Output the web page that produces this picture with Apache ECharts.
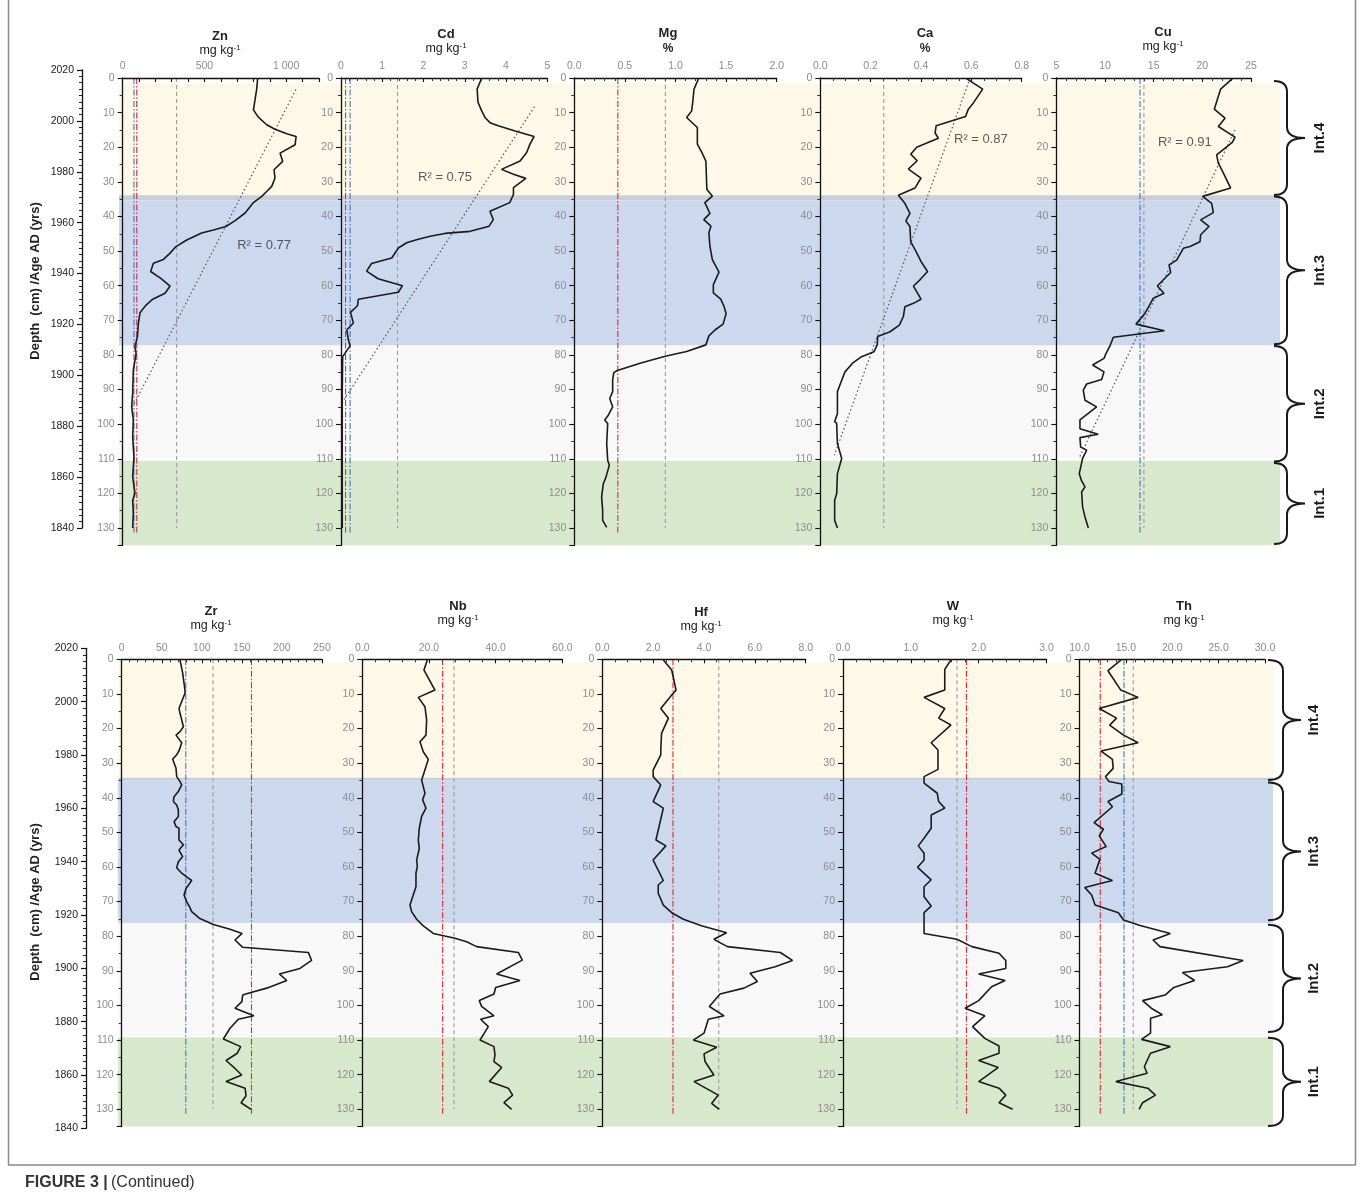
<!DOCTYPE html>
<html><head><meta charset="utf-8">
<script src="https://cdn.jsdelivr.net/npm/echarts@6/dist/echarts.min.js"></script>
<style>html,body{margin:0;padding:0;background:#fff}#c{width:1360px;height:1199px}</style>
</head><body><div id="c"></div>
<script>
// ================= DATA =================
// Zn (mg/kg)
const znDepth = [0,3.2,9.2,11.3,13.5,14.8,16.1,16.9,19.3,21.7,24.1,26.5,28.9,31.3,32.8,34.2,36,39,41.2,42.9,43.9,44.8,46.8,48.7,50.6,52.4,53.5,55.9,57.9,60.1,62.2,63.9,65.6,67.8,70.9,74.7,77.6,79.6,84.4,91.1,95,98.8,103.7,109.5,115.2,120,122,125.8,130];
const znValue = [826,820,800,830,881,932,1004,1061,1055,963,979,926,932,912,881,851,800,749,688,632,555,483,392,326,290,249,188,171,233,290,259,184,143,106,96,90,75,82,65,61,55,65,61,69,61,75,61,65,61];
const znRefs = [69, 86, 330];
const znTrendValue = [1060, 61]; const znTrendDepth = [3.3, 95];
const znR2 = {text:'R² = 0.77', value:865, depth:48.3};
// Cd (mg/kg)
const cdDepth = [0,3.2,7,9.5,11.4,12.9,13.8,15.3,16.9,19.1,21.5,24,26.4,27.8,29,31.7,33.6,36,38.5,40.9,42.8,44.3,44.9,45.7,46.7,47.6,49.1,52,53.6,55.8,58,60,61.9,63.9,65.8,67.7,70.8,72.8,75.7,77.4,80.5,91,130];
const cdValue = [3.41,3.30,3.32,3.41,3.49,3.61,3.81,4.22,4.68,4.58,4.50,4.34,3.89,4.18,4.48,4.18,4.18,4.09,3.61,3.69,3.59,3.13,2.52,2.16,1.83,1.59,1.39,1.23,0.74,0.62,0.90,1.49,1.39,0.42,0.40,0.23,0.30,0.14,0.18,0.22,0.04,0.03,0.03];
const cdRefs = [0.11, 0.22, 1.37];
const cdTrendValue = [4.69, 0.07]; const cdTrendDepth = [8.3, 93];
const cdR2 = {text:'R² = 0.75', value:2.52, depth:28.6};
// Mg (%)
const mgDepth = [0.3,3.2,7,9.5,11.4,14.3,19.1,21.5,24,32.2,34.1,36,39.1,40.9,42.8,44.7,48.6,52.5,56.1,59.7,62.1,63.9,66,68.1,71.1,72.8,74.5,77.1,79,80.3,81.2,82.4,84.5,85.1,87.2,90.6,92.6,95,97.4,98.8,99.8,105.6,110.4,111.9,115.3,117.2,121,124.9,127.8,129.8];
const mgValue = [1.226,1.183,1.17,1.16,1.11,1.216,1.216,1.26,1.30,1.31,1.364,1.29,1.34,1.28,1.35,1.33,1.34,1.364,1.43,1.374,1.374,1.447,1.48,1.50,1.47,1.39,1.33,1.30,1.11,0.91,0.80,0.65,0.425,0.39,0.379,0.379,0.35,0.379,0.336,0.30,0.33,0.32,0.33,0.346,0.313,0.287,0.27,0.28,0.28,0.32];
const mgRefs = [0.43, 0.90];
// Ca (%)
const caDepth = [0.2,3.2,7.2,9,11.1,13.8,15.9,17.4,18.8,20,22,23.9,26.3,28.9,31.8,33.9,36.2,39.1,41.3,42.9,47.3,50.1,53,55.9,58.3,60.1,63.9,65.1,66.1,68.9,71.4,73.3,74.7,77.1,79.1,80.5,82.4,84.9,87.3,90.6,96.9,99.3,99.8,105.6,109.9,114.3,120.1,122,127.8,130];
const caValue = [0.581,0.645,0.608,0.588,0.577,0.46,0.456,0.469,0.423,0.383,0.359,0.385,0.35,0.40,0.376,0.31,0.336,0.356,0.34,0.356,0.359,0.38,0.40,0.426,0.396,0.37,0.40,0.37,0.336,0.33,0.314,0.277,0.228,0.226,0.213,0.164,0.128,0.098,0.085,0.068,0.068,0.057,0.065,0.068,0.085,0.068,0.065,0.057,0.057,0.068];
const caRefs = [0.252];
const caTrendValue = [0.595, 0.056]; const caTrendDepth = [0, 109];
const caR2 = {text:'R² = 0.87', value:0.638, depth:17.6};
// Cu (mg/kg)
const cuDepth = [0.2,3.2,9,11.6,14,17.1,18.6,22.2,24.6,26.5,28.4,31.8,34.2,36.2,38.9,41,42.9,45.3,47.3,48.7,49.2,52.6,54,56.2,58.3,60.1,62.2,63.6,65.4,68,71.1,73,74.9,77.4,79.6,81,82.9,84.9,87.1,88.4,90.2,93.1,95,98.8,101.3,102.9,103.9,106.6,107.5,109.9,114.3,116.4,118.1,119.6,123.9,126.8,130];
const cuValue = [23.08,21.88,21.23,22.33,21.64,23.36,23.08,21.47,21.64,21.99,22.33,22.91,20.03,20.96,21.13,19.83,20.68,19.83,19.76,18.73,18.05,17.36,16.58,16.75,16.0,15.38,16.06,14.97,14.62,14.11,13.18,16.1,10.86,10.51,10.1,9.9,8.73,9.9,9.66,8.12,7.77,7.95,9.14,7.43,7.43,9.3,7.43,7.5,8.12,7.7,7.36,7.6,7.95,7.6,7.7,7.95,8.29];
const cuRefs = [13.6, 14.0];
const cuTrendValue = [23.35, 7.36]; const cuTrendDepth = [15, 109.7];
const cuR2 = {text:'R² = 0.91', value:18.2, depth:18.5};
// Zr (mg/kg)
const zrDepth = [0.2,4,8.9,9.8,12.2,14.2,15.6,17.5,19.5,20.9,21.9,24.1,26.2,27.6,28.9,31.5,33.9,35.3,36.3,38.2,39.7,41.1,42.1,43.5,45.4,46.9,48.3,48.8,52.2,53.6,55.1,57,58.5,60.2,61.8,63,63.9,66.2,68.1,70,71.4,72.9,74.8,76.6,78,79.2,81.1,83.2,84.7,87,89.3,90.9,92.8,95,96.5,97,98.9,100.8,103,104,106.6,109.7,111.9,113.8,115.9,118.2,120.1,122,123.9,126.1,128.1,130];
const zrValue = [72.8,76.1,79,79,74.9,71.5,72.8,74.9,77,72.8,67.8,74.9,72,68.6,63.6,67.8,68.6,72.8,74.9,70.7,65.3,64.5,68.6,70.7,70.7,65.3,67.8,71.5,71.5,77,71.5,76.1,70.7,68.6,74.9,81.9,87.4,80.3,77.8,81.1,84.4,87.4,96.9,114.4,135.2,150.3,141.4,151,233,237,222.5,196.8,206,181,158,151,150,141.4,165,145.6,135.2,126.9,148.5,144.3,130.2,141.4,149.8,130.2,154,155.2,149,161.4];
const zrRefs = [80, 114, 162];
// Nb (mg/kg)
const nbDepth = [0.2,3.1,8.9,11,13.7,17.5,21.9,23.8,26.7,28.9,33.4,34.9,38.7,40.6,43,45.4,48.8,52.2,54.6,58,59.9,61.8,65.7,71,72.9,75.1,77,79.2,80.6,81.6,83,84.7,86.9,90.9,92.8,94.8,96.7,98.6,100.3,103,104,106.1,110,111.9,114.3,116.2,117.9,122,123.9,125.9,128.1,130];
const nbValue = [19.5,18.5,21.8,16.8,18.8,19.3,19.1,17.3,18.3,19.8,18.3,17.8,18.8,18.1,19.1,17.8,17.1,16.8,17.1,16.3,16.5,16.1,16.1,14.3,14.8,16.3,18.3,21.3,27.8,31.3,34.3,46.8,48,40.3,47.3,40,39.5,35.1,35.8,39.5,35.5,37.8,35.3,39.5,39.8,39.5,41.8,38.1,43.8,45.1,42.5,44.8];
const nbRefs = [24.1, 27.5];
// Hf (mg/kg)
const hfDepth = [0.2,3.1,8.9,10.3,14.2,17,21.4,26.2,27.6,32,33.9,36.3,41.1,43,52.2,53.9,58,63.9,65.2,67.6,71,73.2,75.1,77,79,80.9,83,84.7,87,88.8,90.7,93.1,95,96.7,100.3,103,104,108,110,112.1,114,116.2,120.1,122,125.9,128.3,130];
const hfValue = [2.4,2.73,2.9,2.73,2.3,2.6,2.33,2.3,2.3,2.0,2.0,2.3,2.0,2.4,2.11,2.5,2.0,2.4,2.2,2.2,2.4,2.73,3.19,3.9,4.89,4.39,4.92,7.0,7.48,6.8,5.81,6.1,5.57,4.63,4.21,4.79,4.17,4.0,3.58,4.5,4.0,4.04,4.39,3.61,4.56,4.3,4.6];
const hfRefs = [2.78, 4.58];
// W (mg/kg)
const wDepth = [0.2,2.9,8.9,11,14.2,17,19,24.1,26.2,31.8,33.9,35.8,38.7,41.1,43,45,48.8,51.7,53.9,56,58,60.1,63.7,65.7,68.6,71.3,73.2,79.2,80.9,83,84.9,87,89.3,90.9,92.8,94.6,98.6,100.8,103,106.1,109.5,111.7,113.8,115.9,117.9,122,123.9,125.9,128.1,130];
const wValue = [1.59,1.50,1.50,1.195,1.50,1.41,1.59,1.30,1.40,1.40,1.195,1.195,1.39,1.41,1.50,1.30,1.30,1.195,1.11,1.195,1.195,1.10,1.30,1.195,1.195,1.30,1.195,1.195,1.68,1.90,2.30,2.40,2.40,2.0,2.39,2.19,2.0,1.80,2.09,1.91,2.09,2.30,2.30,2.0,2.29,2.0,2.30,2.40,2.30,2.50];
const wRefs = [1.68, 1.82];
// Th (mg/kg)
const thDepth = [0.2,3.3,8.9,11,14.2,17,19,21.9,24.1,26.5,28.9,31.5,33.9,35.3,36,38.9,41.1,42.6,47.2,49.1,51,54.1,56,57.8,61.8,63.9,65.9,68.1,71,73.2,75.3,76.9,79.2,81.1,83,87,88.8,90.5,92.8,94.8,97,98.6,100.8,102.7,103.7,108,109.8,111.9,113.8,115.9,117.7,119.6,122,123.9,125.9,128.1,130];
const thValue = [14.49,13.07,14.45,16.32,12.13,14.0,13.25,14.75,16.32,12.32,13.55,13.63,12.8,13.18,14.56,14.56,13.07,13.55,11.57,12.58,12.13,12.88,11.31,12.2,11.68,13.55,10.56,11.31,11.68,14.19,14.75,16.54,19.79,17.93,18.67,27.64,25.96,21.1,22.41,20.17,19.23,16.8,17.74,18.93,17.66,17.66,16.69,19.79,17.66,17.29,16.99,17.29,13.93,17.36,18.19,16.8,16.43];
const thRefs = [12.24, 14.8, 15.8];

// Intervals (depth, cm)
const intervalLabels = ['Int.4','Int.3','Int.2','Int.1'];
const topBraceStart = [0.9, 34.2, 77.4, 111.2];
const topBraceEnd   = [33.8, 76.9, 110.8, 134.6];
const botBraceStart = [0.2, 35.6, 76.7, 109.3];
const botBraceEnd   = [34.9, 75.4, 107.7, 134.8];
const topBandStart = [1.6, 33.9, 35.3, 77.3, 110.6];
const topBandEnd   = [33.9, 35.3, 77.3, 109.8, 135];
const botBandStart = [1.0, 34.2, 35.1, 76.2, 109.2];
const botBandEnd   = [34.2, 35.1, 76.2, 108.9, 135];

// Age axis (years AD)
const ageMin = 1840, ageMax = 2020, ageStep = 20;
const axisTitle = 'Depth  (cm) /Age AD (yrs)';

// ================= STYLE / LAYOUT =================
const FONT = '"Liberation Sans", Arial, Helvetica, sans-serif';
const GREY_TXT = '#8d8d8d';
const bandColors = ['#fdf8e8', '#c9cfd8', '#cbd8ee', '#f8f8f8', '#d8e8cc'];
const refStyles = {
  g: {color:'#9b9b9b', type:[4,3], width:1.1, end:130},
  r: {color:'#e5262b', type:[6,2,1.5,2], width:1.1, end:131.5},
  b: {color:'#3d74cf', type:[6,2,1.5,2], width:1.1, end:131.5}
};
const rows = [
  {top:78, height:467.3, ageTop:70, ageHeight:458, ageLeft:82, bandLeft:119, bandRight:1280, nameY:281,
   brace:{hook:1274, vert:1287, tip:1305, label:1320}},
  {top:659.3, height:467.3, ageTop:648.3, ageHeight:480, ageLeft:86, bandLeft:118, bandRight:1273, nameY:902,
   brace:{hook:1268, vert:1283, tip:1301, label:1314}}
];
const panels = [
  {name:'Zn', unit:'mg', row:0, left:122.7, width:196.1, min:0, max:1200, interval:100, labelEvery:500, dec:0, minor:0, tx:220, ty:36,
   depth:znDepth, value:znValue, refs:znRefs, kinds:['b','r','g'], tv:znTrendValue, td:znTrendDepth, r2:znR2},
  {name:'Cd', unit:'mg', row:0, left:341, width:206.3, min:0, max:5, interval:1, labelEvery:1, dec:0, minor:5, tx:446, ty:34,
   depth:cdDepth, value:cdValue, refs:cdRefs, kinds:['r','b','g'], tv:cdTrendValue, td:cdTrendDepth, r2:cdR2},
  {name:'Mg', unit:'%', row:0, left:574.3, width:202.4, min:0, max:2, interval:0.5, labelEvery:0.5, dec:1, minor:5, tx:668, ty:33,
   depth:mgDepth, value:mgValue, refs:mgRefs, kinds:['r','g']},
  {name:'Ca', unit:'%', row:0, left:820.3, width:201.4, min:0, max:0.8, interval:0.2, labelEvery:0.2, dec:1, minor:4, tx:925, ty:33,
   depth:caDepth, value:caValue, refs:caRefs, kinds:['g'], tv:caTrendValue, td:caTrendDepth, r2:caR2},
  {name:'Cu', unit:'mg', row:0, left:1056.3, width:194.7, min:5, max:25, interval:5, labelEvery:5, dec:0, minor:5, tx:1163, ty:32,
   depth:cuDepth, value:cuValue, refs:cuRefs, kinds:['b','g'], tv:cuTrendValue, td:cuTrendDepth, r2:cuR2},
  {name:'Zr', unit:'mg', row:1, left:121.7, width:200.3, min:0, max:250, interval:50, labelEvery:50, dec:0, minor:5, tx:211, ty:611,
   depth:zrDepth, value:zrValue, refs:zrRefs, kinds:['b','g','r']},
  {name:'Nb', unit:'mg', row:1, left:362.3, width:200, min:0, max:60, interval:20, labelEvery:20, dec:1, minor:5, tx:458, ty:606,
   depth:nbDepth, value:nbValue, refs:nbRefs, kinds:['r','g']},
  {name:'Hf', unit:'mg', row:1, left:602.3, width:203.4, min:0, max:8, interval:2, labelEvery:2, dec:1, minor:4, tx:701, ty:612,
   depth:hfDepth, value:hfValue, refs:hfRefs, kinds:['r','g']},
  {name:'W', unit:'mg', row:1, left:843, width:203.5, min:0, max:3, interval:1, labelEvery:1, dec:1, minor:5, tx:953, ty:606,
   depth:wDepth, value:wValue, refs:wRefs, kinds:['g','r']},
  {name:'Th', unit:'mg', row:1, left:1079.5, width:185.5, min:10, max:30, interval:5, labelEvery:5, dec:1, minor:5, tx:1184, ty:606,
   depth:thDepth, value:thValue, refs:thRefs, kinds:['r','b','g']}
];

// ================= BUILD =================
const grid = [], xAxis = [], yAxis = [], series = [], graphic = [];

function xFmt(p) {
  return function (v) {
    const k = v / p.labelEvery;
    if (Math.abs(k - Math.round(k)) > 1e-6) return '';
    let s = v.toFixed(p.dec);
    if (v >= 1000) s = s.replace(/(\d)(\d{3})$/, '$1 $2');
    return s;
  };
}

// age axis grids
rows.forEach((r) => {
  grid.push({left:r.ageLeft, top:r.ageTop, width:10, height:r.ageHeight});
  xAxis.push({gridIndex:grid.length-1, type:'value', show:false, min:0, max:1});
  yAxis.push({gridIndex:grid.length-1, type:'value', min:ageMin, max:ageMax, interval:ageStep, position:'left', z:10,
    axisLine:{show:true, lineStyle:{color:'#111', width:1.3}},
    axisTick:{show:true, length:5, lineStyle:{color:'#111', width:1.2}},
    minorTick:{show:true, splitNumber:8, length:3, lineStyle:{color:'#222'}},
    splitLine:{show:false}, minorSplitLine:{show:false},
    axisLabel:{color:'#222', fontSize:10.5, fontFamily:FONT, margin:8, formatter:v => String(v)}});
  graphic.push({type:'text', x:35, y:r.nameY, rotation:Math.PI/2,
    style:{text:axisTitle, fill:'#222', font:'bold 13px ' + FONT, textAlign:'center', textVerticalAlign:'middle',
           align:'center', verticalAlign:'middle'}});
});
// band grids with interval braces
rows.forEach((r, i) => {
  grid.push({left:r.bandLeft, top:r.top, width:r.bandRight - r.bandLeft, height:r.height});
  const gi = grid.length - 1;
  xAxis.push({gridIndex:gi, type:'value', show:false, min:0, max:1});
  yAxis.push({gridIndex:gi, type:'value', show:false, inverse:true, min:0, max:135});
  const bs = i === 0 ? topBandStart : botBandStart, be = i === 0 ? topBandEnd : botBandEnd;
  series.push({type:'custom', xAxisIndex:gi, yAxisIndex:gi, z:0, silent:true, clip:false,
    data: bs.map((s, k) => [s, be[k], k]),
    renderItem: (params, api) => {
      const p0 = api.coord([0, api.value(0)]), p1 = api.coord([1, api.value(1)]);
      return {type:'rect', shape:{x:p0[0], y:p0[1], width:p1[0]-p0[0], height:p1[1]-p0[1]},
              style:{fill:bandColors[api.value(2)]}};
    }});
  const rs = i === 0 ? topBraceStart : botBraceStart, re = i === 0 ? topBraceEnd : botBraceEnd;
  const b = r.brace;
  series.push({type:'custom', xAxisIndex:gi, yAxisIndex:gi, z:5, silent:true, clip:false,
    data: rs.map((s, k) => [s, re[k], k]),
    renderItem: (params, api) => {
      const y0 = api.coord([1, api.value(0)])[1], y1 = api.coord([1, api.value(1)])[1];
      const ym = (y0 + y1) / 2, rr = 11;
      const d = `M${b.hook},${y0} Q${b.vert},${y0} ${b.vert},${y0+rr} L${b.vert},${ym-rr} Q${b.vert},${ym} ${b.tip},${ym} ` +
                `Q${b.vert},${ym} ${b.vert},${ym+rr} L${b.vert},${y1-rr} Q${b.vert},${y1} ${b.hook},${y1}`;
      return {type:'group', children:[
        {type:'path', shape:{pathData:d}, style:{stroke:'#1a1a1a', lineWidth:2, fill:'none'}},
        {type:'text', x:b.label, y:ym, rotation:Math.PI/2,
         style:{text:intervalLabels[api.value(2)], fill:'#1a1a1a', fontSize:15, fontWeight:'bold', fontFamily:FONT,
                align:'center', verticalAlign:'middle', textAlign:'center', textVerticalAlign:'middle'}}
      ]};
    }});
});

panels.forEach(p => {
  const r = rows[p.row];
  grid.push({left:p.left, top:r.top, width:p.width, height:r.height});
  const gi = grid.length - 1;
  xAxis.push({gridIndex:gi, type:'value', position:'top', min:p.min, max:p.max, interval:p.interval, z:10,
    axisLine:{show:true, onZero:false, lineStyle:{color:'#111', width:1.3}},
    axisTick:{show:true, inside:true, length:4, lineStyle:{color:'#111', width:1.1}},
    minorTick:{show:p.minor > 0, splitNumber:p.minor || 5, length:3, lineStyle:{color:'#333'}},
    splitLine:{show:false}, minorSplitLine:{show:false},
    axisLabel:{color:GREY_TXT, fontSize:10.5, fontFamily:FONT, margin:6, formatter:xFmt(p), showMaxLabel:true}});
  yAxis.push({gridIndex:gi, type:'value', inverse:true, min:0, max:135, interval:10, z:10,
    axisLine:{show:true, onZero:false, lineStyle:{color:'#111', width:1.3}},
    axisTick:{show:true, length:5, lineStyle:{color:'#111', width:1.1}},
    minorTick:{show:true, splitNumber:2, length:3, lineStyle:{color:'#333'}},
    splitLine:{show:false}, minorSplitLine:{show:false},
    axisLabel:{color:GREY_TXT, fontSize:10.5, fontFamily:FONT, margin:8,
      formatter:v => (v % 10 === 0 && v <= 130) ? String(v) : ''}});
  p.refs.forEach((v, k) => {
    const st = refStyles[p.kinds[k]];
    series.push({type:'line', xAxisIndex:gi, yAxisIndex:gi, z:6, silent:true, showSymbol:false, symbol:'none',
      data:[[v, 0], [v, st.end]], lineStyle:{color:st.color, type:st.type, width:st.width}});
  });
  if (p.tv) {
    series.push({type:'line', xAxisIndex:gi, yAxisIndex:gi, z:7, silent:true, symbol:'none',
      data:p.tv.map((v, k) => [v, p.td[k]]), lineStyle:{color:'#555', type:[1.5,2.5], width:1.2}});
  }
  const n = Math.min(p.depth.length, p.value.length);
  const pts = [];
  for (let k = 0; k < n; k++) pts.push([p.value[k], p.depth[k]]);
  series.push({type:'line', xAxisIndex:gi, yAxisIndex:gi, z:12, silent:true, symbol:'none', data:pts,
    lineStyle:{color:'#1b1b1b', width:1.6}});
  if (p.r2) {
    series.push({type:'scatter', xAxisIndex:gi, yAxisIndex:gi, z:13, silent:true, symbolSize:1,
      itemStyle:{color:'rgba(0,0,0,0)'}, data:[[p.r2.value, p.r2.depth]],
      label:{show:true, position:'inside', formatter:p.r2.text, color:'#333', fontSize:13, fontFamily:FONT}});
  }
  graphic.push({type:'text', x:p.tx, y:p.ty, style:{text:p.name, fill:'#222', font:'bold 13px ' + FONT,
    textAlign:'center', textVerticalAlign:'middle', align:'center', verticalAlign:'middle'}});
  if (p.unit === '%') {
    graphic.push({type:'text', x:p.tx, y:p.ty + 16, style:{text:'%', fill:'#222', font:'bold 12px ' + FONT,
      textAlign:'center', textVerticalAlign:'middle', align:'center', verticalAlign:'middle'}});
  } else {
    graphic.push({type:'text', x:p.tx, y:p.ty + 15, style:{text:'{a|mg kg}{b|-1}', fill:'#222',
      textAlign:'center', textVerticalAlign:'middle', align:'center', verticalAlign:'middle',
      rich:{a:{fontSize:12.5, fontFamily:FONT, fill:'#222', lineHeight:15},
            b:{fontSize:8, fontFamily:FONT, fill:'#222', lineHeight:15, verticalAlign:'top'}}}});
  }
});

// frame and caption
graphic.push({type:'line', shape:{x1:8.5, y1:0, x2:8.5, y2:1165}, style:{stroke:'#8a8a8a', lineWidth:1.5}});
graphic.push({type:'line', shape:{x1:1355.5, y1:0, x2:1355.5, y2:1165}, style:{stroke:'#8a8a8a', lineWidth:1.5}});
graphic.push({type:'line', shape:{x1:8, y1:1165, x2:1356, y2:1165}, style:{stroke:'#8a8a8a', lineWidth:1.5}});
graphic.push({type:'text', x:25, y:1183, style:{text:'{b|FIGURE 3 |} {n|(Continued)}', textVerticalAlign:'middle', verticalAlign:'middle',
  rich:{b:{fontSize:16, fontWeight:'bold', fontFamily:FONT, fill:'#333'}, n:{fontSize:16, fontFamily:FONT, fill:'#333'}}}});

const chart = echarts.init(document.getElementById('c'), null, {renderer:'canvas'});
chart.setOption({animation:false, backgroundColor:'#fff', grid, xAxis, yAxis, series, graphic});
</script></body></html>
